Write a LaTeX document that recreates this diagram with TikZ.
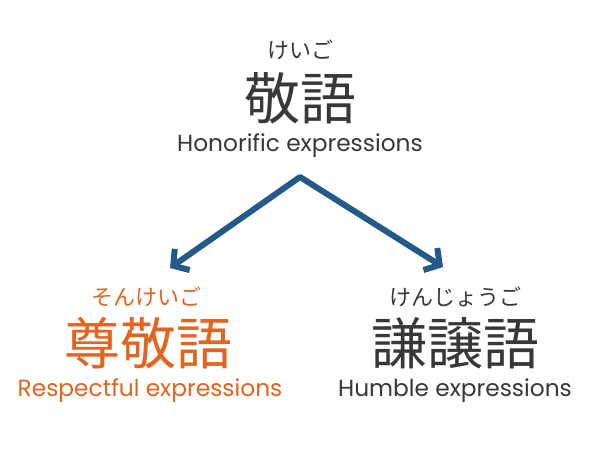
\documentclass[tikz,border=0pt]{standalone}
\usepackage{fontspec}
\setmainfont{Poppins}
\newfontfamily\jp{Noto Sans CJK JP}
\usetikzlibrary{arrows.meta}
\definecolor{txt}{HTML}{383838}
\definecolor{org}{HTML}{E2641E}
\definecolor{arr}{HTML}{235A8A}
\tikzset{
  ruby/.style={font=\jp\fontsize{22}{22}\selectfont, inner sep=0pt, anchor=center},
  kanji/.style={font=\jp\fontsize{56}{56}\selectfont, inner sep=0pt, anchor=center},
  eng/.style={font=\fontsize{23.3}{23.3}\selectfont, inner sep=0pt, anchor=center},
  conn/.style={draw=arr, line width=6pt, line cap=round, line join=round,
    {Straight Barb[length=11pt,width=26pt,line width=6pt]}-{Straight Barb[length=11pt,width=26pt,line width=6pt]}}
}
\begin{document}
\begin{tikzpicture}[x=1pt,y=1pt]
\useasboundingbox (0,0) rectangle (600,-450);
\fill[white] (0,0) rectangle (600,-450);
% top
\node[ruby, text=txt] (r0) at (300,-50) {けいご};
\node[kanji, text=txt] (k0) at (300,-98) {敬語};
\node[eng, text=txt] (e0) at (300,-146) {Honorific expressions};
% left
\node[ruby, text=org] (r1) at (146,-297) {そんけいご};
\node[kanji, text=org] (k1) at (148,-343) {尊敬語};
\node[eng, text=org] (e1) at (150,-391) {Respectful expressions};
% right
\node[ruby, text=txt] (r2) at (455,-297) {けんじょうご};
\node[kanji, text=txt] (k2) at (455,-343) {謙譲語};
\node[eng, text=txt] (e2) at (455,-391) {Humble expressions};
% arrows
\coordinate (apex) at (300,-177);
\coordinate (lend) at (170,-268);
\coordinate (rend) at (443,-267);
\draw[conn] (lend) -- (apex) -- (rend);
\end{tikzpicture}
\end{document}
